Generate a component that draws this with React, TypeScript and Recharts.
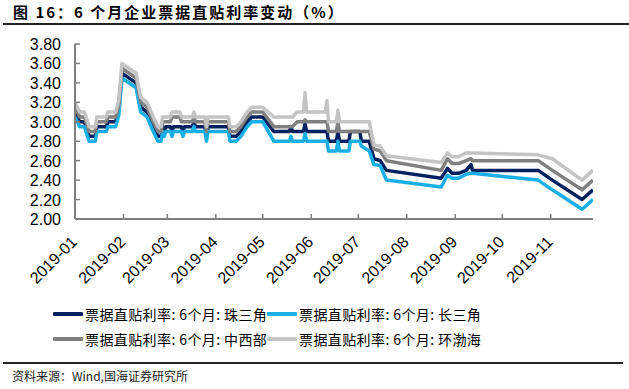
import React from 'react';
import { LineChart, Line, XAxis, YAxis, Legend } from 'recharts';

// day offset from 2019-01-01
const dayIndex = [
  0, 3, 6, 9, 13, 14, 20, 21, 26, 28, 30, 39, 42, 46, 50, 53, 55, 56, 57, 58,
  61, 62, 63, 67, 68, 69, 70, 75, 76, 77, 83, 84, 85, 98, 99, 103, 106, 110, 113, 120,
  127, 137, 138, 139, 142, 146, 147, 148, 160, 161, 162, 167, 168, 169, 175, 176, 182, 183, 188, 191,
  195, 199, 234, 238, 241, 245, 250, 253, 254, 296, 305, 324, 331,
];

// 珠三角
const zhuSanJiao = [
  3.10, 3.00, 3.00, 2.85, 2.85, 2.95, 2.95, 3.00, 3.00, 3.12, 3.50, 3.40, 3.15, 3.10, 2.95, 2.85, 2.85, 2.95, 2.90, 2.95,
  2.95, 2.90, 2.95, 2.95, 2.95, 2.90, 2.95, 2.95, 3.00, 2.95, 2.95, 2.85, 2.95, 2.95, 2.85, 2.85, 2.90, 3.00, 3.05, 3.05,
  2.90, 2.90, 2.95, 2.90, 2.90, 2.90, 2.98, 2.90, 2.90, 2.90, 2.80, 2.80, 2.90, 2.80, 2.80, 2.90, 2.90, 2.80, 2.80, 2.62,
  2.60, 2.50, 2.42, 2.52, 2.47, 2.47, 2.50, 2.56, 2.50, 2.50, 2.40, 2.20, 2.30,
];

// 长三角
const changSanJiao = [
  3.05, 2.95, 2.95, 2.80, 2.80, 2.90, 2.90, 2.95, 2.95, 3.07, 3.45, 3.35, 3.10, 3.05, 2.90, 2.80, 2.80, 2.90, 2.85, 2.90,
  2.90, 2.85, 2.90, 2.90, 2.90, 2.85, 2.90, 2.90, 2.95, 2.90, 2.90, 2.80, 2.90, 2.90, 2.80, 2.80, 2.85, 2.95, 3.00, 3.00,
  2.80, 2.80, 2.85, 2.80, 2.80, 2.80, 2.88, 2.80, 2.80, 2.80, 2.70, 2.70, 2.80, 2.70, 2.70, 2.80, 2.80, 2.75, 2.70, 2.56,
  2.55, 2.40, 2.33, 2.45, 2.42, 2.42, 2.46, 2.47, 2.47, 2.40, 2.30, 2.10, 2.20,
];

// 中西部
const zhongXiBu = [
  3.15, 3.05, 3.05, 2.90, 2.90, 3.00, 3.00, 3.05, 3.05, 3.17, 3.55, 3.45, 3.20, 3.15, 3.00, 2.90, 2.90, 3.00, 3.00, 3.00,
  3.00, 3.05, 3.05, 3.05, 3.00, 3.00, 3.00, 3.00, 3.05, 3.00, 3.00, 2.90, 3.00, 3.00, 2.90, 2.90, 2.95, 3.05, 3.10, 3.10,
  2.95, 2.95, 2.95, 2.95, 3.00, 3.00, 3.02, 3.00, 3.00, 3.00, 2.90, 2.90, 3.00, 2.90, 2.90, 2.90, 2.90, 2.90, 2.90, 2.72,
  2.70, 2.60, 2.50, 2.62, 2.57, 2.57, 2.60, 2.62, 2.60, 2.60, 2.50, 2.30, 2.40,
];

// 环渤海
const huanBoHai = [
  3.20, 3.10, 3.10, 2.95, 2.95, 3.05, 3.05, 3.10, 3.10, 3.22, 3.60, 3.50, 3.25, 3.20, 3.05, 2.95, 2.95, 3.05, 3.05, 3.05,
  3.05, 3.10, 3.10, 3.10, 3.05, 3.05, 3.05, 3.05, 3.10, 3.05, 3.05, 2.95, 3.05, 3.05, 2.95, 2.95, 3.00, 3.10, 3.15, 3.15,
  3.05, 3.05, 3.05, 3.05, 3.10, 3.10, 3.30, 3.10, 3.10, 3.22, 3.00, 3.00, 3.12, 3.00, 3.00, 3.00, 3.00, 3.00, 3.00, 2.76,
  2.75, 2.65, 2.58, 2.68, 2.64, 2.64, 2.68, 2.68, 2.68, 2.66, 2.62, 2.40, 2.50,
];

const monthStarts = [0, 31, 59, 90, 120, 151, 181, 212, 243, 273, 304];
const monthLabels = [
  '2019-01', '2019-02', '2019-03', '2019-04', '2019-05', '2019-06',
  '2019-07', '2019-08', '2019-09', '2019-10', '2019-11',
];
const yTicks = [2.0, 2.2, 2.4, 2.6, 2.8, 3.0, 3.2, 3.4, 3.6, 3.8];

const seriesKeys = ['zsj', 'csj', 'zxb', 'hbh'];
const seriesNames = [
  '票据直贴利率: 6个月: 珠三角',
  '票据直贴利率: 6个月: 长三角',
  '票据直贴利率: 6个月: 中西部',
  '票据直贴利率: 6个月: 环渤海',
];
const seriesColors = ['#002060', '#19AEE6', '#808080', '#C4C4C4'];
const seriesValues = [zhuSanJiao, changSanJiao, zhongXiBu, huanBoHai];

const data = dayIndex.map((d, i) => {
  const row: Record<string, number> = { d };
  seriesKeys.forEach((k, s) => {
    row[k] = seriesValues[s][i];
  });
  return row;
});

const axisFont = '"Liberation Sans", Arial, sans-serif';
const cjkFont = '"Noto Sans CJK SC", sans-serif';

const XTick = (props: any) => {
  const { x, y, payload } = props;
  const idx = monthStarts.indexOf(payload.value);
  const ax = x + 3;
  const ay = y + 29;
  return (
    <text
      x={ax}
      y={ay}
      transform={`rotate(-45 ${ax} ${ay})`}
      textAnchor="end"
      fontSize={16}
      fontFamily={axisFont}
      fill="#000"
    >
      {monthLabels[idx]}
    </text>
  );
};

const YTick = (props: any) => {
  const { x, y, payload } = props;
  return (
    <text
      x={x - 19}
      y={y}
      dy={6}
      textAnchor="end"
      fontSize={16}
      fontFamily={axisFont}
      fill="#000"
    >
      {Number(payload.value).toFixed(2)}
    </text>
  );
};

const LegendContent = () => {
  return (
    <div style={{ position: 'relative', width: 629, height: 60 }}>
      {seriesNames.map((name, i) => {
        const col = i % 2;
        const row = Math.floor(i / 2);
        const left = col === 0 ? 53 : 267;
        const top = row === 0 ? 14 : 39;
        return (
          <div key={i} style={{ position: 'absolute', left, top: top - 10, height: 20, display: 'flex', alignItems: 'center' }}>
            <div style={{ width: 30, height: 4, background: seriesColors[i], borderRadius: 1 }} />
            <span
              style={{
                marginLeft: 2,
                fontSize: 14,
                fontFamily: cjkFont,
                letterSpacing: 0.4,
                color: '#000',
                whiteSpace: 'nowrap',
                lineHeight: '20px',
              }}
            >
              {name}
            </span>
          </div>
        );
      })}
    </div>
  );
};

export default function App() {
  return (
    <div
      style={{
        position: 'absolute',
        left: 0,
        top: 0,
        width: 629,
        height: 389,
        background: '#fff',
        overflow: 'hidden',
      }}
    >
      <div
        style={{
          position: 'absolute',
          left: 13,
          top: 2,
          fontSize: 15,
          fontWeight: 700,
          fontFamily: cjkFont,
          letterSpacing: 2,
          color: '#000',
          whiteSpace: 'nowrap',
          lineHeight: '20px',
        }}
      >
        图 16：6 个月企业票据直贴利率变动（%）
      </div>
      <div style={{ position: 'absolute', left: 3, top: 23, width: 626, height: 2, background: '#222' }} />
      <div style={{ position: 'absolute', left: 0, top: 0 }}>
        <LineChart width={629} height={389} data={data} margin={{ top: 44, right: 36, bottom: 0, left: 15 }}>
          <XAxis
            dataKey="d"
            type="number"
            domain={[0, 331]}
            ticks={monthStarts}
            interval={0}
            height={170}
            tickSize={-5}
            tickMargin={0}
            tick={<XTick />}
            axisLine={{ stroke: '#7f7f7f', strokeWidth: 2 }}
            tickLine={{ stroke: '#7f7f7f', strokeWidth: 1.5 }}
            allowDataOverflow
          />
          <YAxis
            type="number"
            domain={[2.0, 3.8]}
            ticks={yTicks}
            interval={0}
            width={60}
            tickSize={-5}
            tickMargin={0}
            tick={<YTick />}
            axisLine={{ stroke: '#7f7f7f', strokeWidth: 2 }}
            tickLine={{ stroke: '#7f7f7f', strokeWidth: 1.5 }}
            allowDataOverflow
          />
          {seriesKeys.map((k, s) => (
            <Line
              key={k}
              type="linear"
              dataKey={k}
              name={seriesNames[s]}
              stroke={seriesColors[s]}
              strokeWidth={3.5}
              strokeLinejoin="round"
              dot={false}
              activeDot={false}
              isAnimationActive={false}
            />
          ))}
          <Legend
            layout="vertical"
            align="center"
            verticalAlign="middle"
            content={<LegendContent />}
            wrapperStyle={{ position: 'absolute', top: 300, left: 0, width: 629, height: 60 }}
          />
        </LineChart>
      </div>
      <div style={{ position: 'absolute', left: 3, top: 362, width: 620, height: 1.5, background: '#222' }} />
      <div
        style={{
          position: 'absolute',
          left: 12,
          top: 368,
          fontSize: 12,
          fontFamily: cjkFont,
          color: '#222',
          whiteSpace: 'nowrap',
          lineHeight: '16px',
        }}
      >
        资料来源：Wind,国海证券研究所
      </div>
    </div>
  );
}
